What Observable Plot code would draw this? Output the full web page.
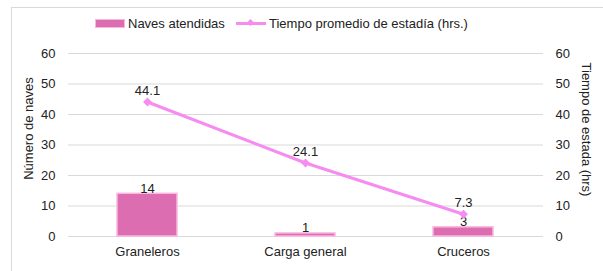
<!DOCTYPE html>
<html>
<head>
<meta charset="utf-8">
<script src="https://cdn.jsdelivr.net/npm/d3@7"></script>
<script src="https://cdn.jsdelivr.net/npm/@observablehq/plot@0.6"></script>
<style>
  html, body { margin: 0; padding: 0; background: #fff; }
  #wrap { position: relative; width: 603px; height: 271px; overflow: hidden; font-family: "Liberation Sans", Arial, sans-serif; color: #222; }
  #frame { position: absolute; left: 11px; top: 7px; width: 700px; height: 400px; border: 1px solid #d9d9d9; box-sizing: border-box; }
  #legend { position: absolute; top: 14px; left: 0; width: 603px; font-size: 13px; }
  .item { position: absolute; top: 0; display: flex; align-items: center; height: 18px; white-space: nowrap; }
  .sw-bar { width: 28px; height: 7px; background: #dc6db0; border: 1px solid #fbb6e0; margin-right: 3px; }
  .sw-line { position: relative; width: 30px; height: 3px; background: #f68cf2; margin-right: 3px; }
  .sw-line::after { content: ""; position: absolute; left: 12px; top: -2px; width: 5px; height: 5px; background: #f68cf2; transform: rotate(45deg); }
  #chart { position: absolute; left: 0; top: 0; }
  .ylab { position: absolute; font-size: 13px; white-space: nowrap; transform-origin: center center; }
</style>
</head>
<body>
<div id="wrap">
  <div id="frame"></div>
  <div id="chart"></div>
  <div id="legend">
    <div class="item" style="left:95px"><span class="sw-bar"></span><span>Naves atendidas</span></div>
    <div class="item" style="left:236px"><span class="sw-line"></span><span>Tiempo promedio de estadía (hrs.)</span></div>
  </div>
  <div class="ylab" id="ylabL">Número de naves</div>
  <div class="ylab" id="ylabR">Tiempo de estada (hrs)</div>
</div>
<script>
const categories = ["Graneleros", "Carga general", "Cruceros"];
const navesAtendidas = [14, 1, 3];
const tiempoPromedio = [44.1, 24.1, 7.3];
const yTicks = [0, 10, 20, 30, 40, 50, 60];
const yTitleLeft = "Número de naves";
const yTitleRight = "Tiempo de estada (hrs)";

const data = categories.map((c, i) => ({cat: c, naves: navesAtendidas[i], tiempo: tiempoPromedio[i]}));

const barFill = "#dc6db0", barStroke = "#fbb6e0", lineColor = "#f68cf2";

const chart = Plot.plot({
  width: 603,
  height: 271,
  marginTop: 53,
  marginBottom: 35,
  marginLeft: 68,
  marginRight: 60,
  style: {fontFamily: "'Liberation Sans', Arial, sans-serif", fontSize: "13px", color: "#222", background: "transparent"},
  x: {domain: categories, paddingInner: 0.62, paddingOuter: 0.31, label: null},
  y: {domain: [0, 60], label: null},
  marks: [
    Plot.gridY(yTicks, {stroke: "#d9d9d9", strokeOpacity: 1, strokeWidth: 1}),
    Plot.axisY(yTicks, {anchor: "left", tickSize: 0, tickPadding: 13, label: null, fontSize: 13}),
    Plot.axisY(yTicks, {anchor: "right", tickSize: 0, tickPadding: 12, label: null, fontSize: 13}),
    Plot.axisX({tickSize: 0, tickPadding: 10, label: null, fontSize: 13}),
    Plot.barY(data, {x: "cat", y: "naves", fill: barFill, stroke: barStroke, strokeWidth: 1.5}),
    Plot.text(data, {x: "cat", y: "naves", text: d => String(d.naves), lineAnchor: "bottom", dy: -1, fontSize: 13, fill: "#222"}),
    Plot.line(data, {x: "cat", y: "tiempo", stroke: lineColor, strokeWidth: 3}),
    Plot.dot(data, {x: "cat", y: "tiempo", symbol: "diamond2", r: 4, fill: lineColor, stroke: "none"}),
    Plot.text(data, {x: "cat", y: "tiempo", text: d => d.tiempo.toFixed(1), lineAnchor: "bottom", dy: -7, fontSize: 13, fill: "#222"})
  ]
});
document.getElementById("chart").appendChild(chart);

function placeLabel(id, text, cx, cy, deg) {
  const el = document.getElementById(id);
  el.textContent = text;
  const w = el.offsetWidth, h = el.offsetHeight;
  el.style.left = (cx - w / 2) + "px";
  el.style.top = (cy - h / 2) + "px";
  el.style.transform = `rotate(${deg}deg)`;
}
placeLabel("ylabL", yTitleLeft, 28, 128, -90);
placeLabel("ylabR", yTitleRight, 587, 129, 90);
</script>
</body>
</html>
